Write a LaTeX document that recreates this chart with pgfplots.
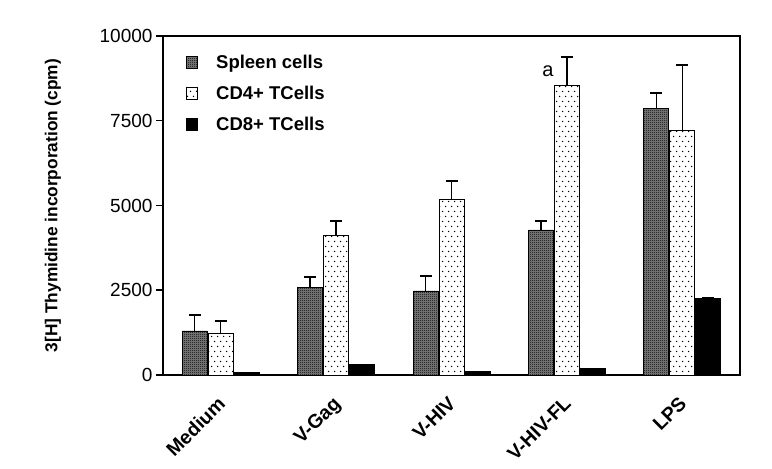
\documentclass[border=0pt]{standalone}
\usepackage{pgfplots}
\pgfplotsset{compat=1.18}
\usepackage{pgfplotstable}
\usepackage{fontspec}
\setmainfont{Liberation Sans}
\usetikzlibrary{patterns}
\pgfdeclarepatternformonly{sparsedots}{\pgfqpoint{-1bp}{-1bp}}{\pgfqpoint{7bp}{11bp}}{\pgfqpoint{6bp}{10bp}}{%
  \pgfpathcircle{\pgfqpoint{1.5bp}{2.5bp}}{0.75bp}%
  \pgfpathcircle{\pgfqpoint{4.5bp}{7.5bp}}{0.75bp}%
  \pgfusepath{fill}}
\pgfdeclarepatternformonly{checker}{\pgfqpoint{0bp}{0bp}}{\pgfqpoint{2bp}{2bp}}{\pgfqpoint{2bp}{2bp}}{%
  \pgfpathrectangle{\pgfqpoint{0bp}{0bp}}{\pgfqpoint{1bp}{1bp}}%
  \pgfpathrectangle{\pgfqpoint{1bp}{1bp}}{\pgfqpoint{1bp}{1bp}}%
  \pgfusepath{fill}}

\pgfplotstableread{
x  s    se   c4   c4e  c8   c8e
0  1300 470  1230 360  70   0
1  2570 320  4130 410  300  0
2  2480 440  5190 540  110  0
3  4280 270  8550 830  190  0
4  7850 470  7230 1910 2270 0
}\data

\begin{document}
\begin{tikzpicture}
\useasboundingbox (-163bp,-94bp) rectangle (609bp,375bp);
\begin{axis}[
  at={(0,0)}, anchor=south west,
  scale only axis, width=577bp, height=339bp,
  ybar=1bp, bar width=25bp,
  xmin=-0.5, xmax=4.5, ymin=0, ymax=10000,
  xtick={0,1,2,3,4},
  xticklabels={Medium,V-Gag,V-HIV,V-HIV-FL,LPS},
  x tick label style={rotate=45, anchor=north east, font=\fontsize{19.5bp}{21bp}\selectfont\bfseries, yshift=-3bp, xshift=-9bp},
  major x tick style={draw=none},
  extra x ticks={-0.5,0.5,1.5,2.5,3.5,4.5},
  extra x tick labels={},
  extra x tick style={major tick length=7bp, tick style={line width=1.5bp, black}, tick align=outside},
  ytick={0,2500,5000,7500,10000},
  scaled y ticks=false,
  y tick label style={/pgf/number format/set thousands separator={}, /pgf/number format/assume math mode=true, font=\fontsize{19bp}{21bp}\selectfont},
  ytick style={line width=1.5bp, black},
  major tick length=7bp,
  tick align=outside,
  tick pos=left,
  axis line style={line width=1.8bp},
  ylabel={3[H] Thymidine incorporation (cpm)},
  every axis y label/.style={at={(axis description cs:-0.191,0.5)}, rotate=90, anchor=center, font=\fontsize{17.3bp}{19bp}\selectfont\bfseries},
  error bars/y dir=plus, error bars/y explicit,
  error bars/error bar style={line width=1.5bp, black},
  error bars/error mark options={rotate=90, mark size=6bp, line width=1.5bp, black},
  legend style={at={(axis description cs:0.035,0.955)}, anchor=north west, draw=none, fill=none,
    font=\fontsize{18.5bp}{20bp}\selectfont\bfseries, row sep=12bp,
    /tikz/every odd column/.style={column sep=16bp}},
  legend cell align=left,
  legend image code/.code={\draw[#1, line width=0.8bp] (0bp,-6bp) rectangle (11bp,6bp);},
  clip=false,
]
\addplot[draw=black, line width=0.8bp, fill=black!50, postaction={pattern=checker, pattern color=black}]
  table[x=x, y=s, y error=se]{\data};
\addplot[draw=black, line width=0.8bp, fill=white, postaction={pattern=sparsedots, pattern color=black}]
  table[x=x, y=c4, y error=c4e]{\data};
\addplot[draw=black, line width=0.8bp, fill=black]
  table[x=x, y=c8, y error=c8e]{\data};
\legend{Spleen cells, CD4+ TCells, CD8+ TCells}
\node[font=\fontsize{20bp}{22bp}\selectfont] at (axis cs:3,8950) [xshift=-19bp] {a};
\end{axis}
\end{tikzpicture}
\end{document}
